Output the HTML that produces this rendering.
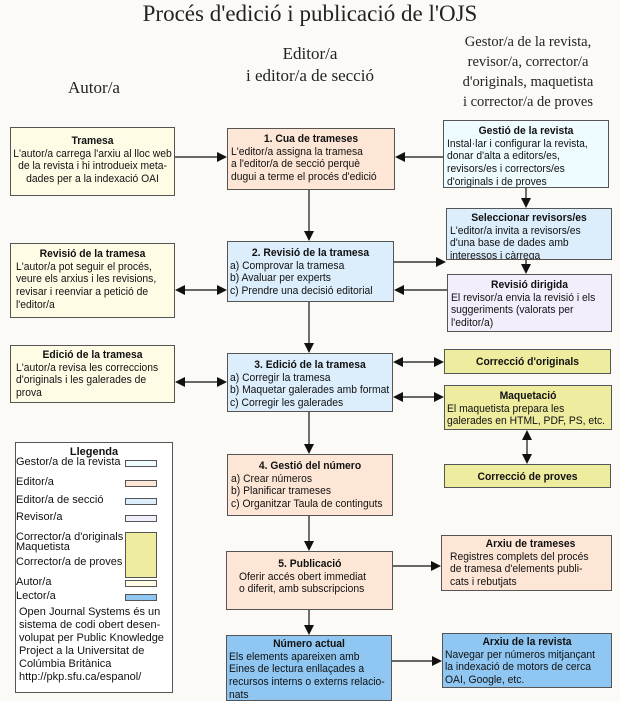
<!DOCTYPE html>
<html><head><meta charset="utf-8"><style>
body{margin:0;width:620px;height:701px;background:#fbfaf6;position:relative;overflow:hidden;font-family:"Liberation Sans",Arial,sans-serif;color:#111}
.s{position:absolute;font-family:"Liberation Serif",serif;color:#222;text-align:center;white-space:nowrap}
.b{position:absolute;box-sizing:border-box;border:1px solid #555;font-size:11px;line-height:12.7px;padding:4px 3px;white-space:nowrap;overflow:hidden}
.t{width:106.4%;transform:scaleX(0.94);transform-origin:0 0}
.b b{display:block;text-align:center}
.c{text-align:center}
.au{background:#fffce6}.ed{background:#fde6d6}.se{background:#dcedfb}.ge{background:#effcff}.re{background:#f3eefc}.ye{background:#eeec9e}.le{background:#8fc7f2}
.lg{position:absolute;font-size:11px;white-space:nowrap}
.sw{position:absolute;box-sizing:border-box;border:1px solid #555;height:7px;width:32px;left:125px}
</style></head><body>
<div class="s" style="left:0;width:620px;top:1px;font-size:23px">Procés d'edició i publicació de l'OJS</div>
<div class="s" style="left:39px;width:110px;top:78px;font-size:17px">Autor/a</div>
<div class="s" style="left:210px;width:200px;top:43px;font-size:17px;line-height:22px">Editor/a<br>i editor/a de secció</div>
<div class="s" style="left:428px;width:200px;top:32px;font-size:14.5px;line-height:20px">Gestor/a de la revista,<br>revisor/a, corrector/a<br>d'originals, maquetista<br>i corrector/a de proves</div>

<div class="b au c" style="left:10px;top:127px;width:165px;height:69px;padding:7px 1px"><div class="t">
<b>Tramesa</b>L'autor/a carrega l'arxiu al lloc web<br>de la revista i hi introdueix meta-<br>dades per a la indexació OAI</div></div>
<div class="b ed" style="left:227px;top:128px;width:168px;height:62px"><div class="t">
<b>1. Cua de trameses</b>L'editor/a assigna la tramesa<br>a l'editor/a de secció perquè<br>dugui a terme el procés d'edició</div></div>
<div class="b ge" style="left:443px;top:120px;width:166px;height:68px"><div class="t">
<b>Gestió de la revista</b>Instal·lar i configurar la revista,<br>donar d'alta a editors/es,<br>revisors/es i correctors/es<br>d'originals i de proves</div></div>
<div class="b se" style="left:446px;top:208px;width:166px;height:52px;padding-top:3px"><div class="t">
<b>Seleccionar revisors/es</b>L'editor/a invita a revisors/es<br>d'una base de dades amb<br>interessos i càrrega</div></div>
<div class="b se" style="left:227px;top:241px;width:167px;height:61px;padding:5px 2px"><div class="t">
<b>2. Revisió de la tramesa</b>a) Comprovar la tramesa<br>b) Avaluar per experts<br>c) Prendre una decisió editorial</div></div>
<div class="b au" style="left:10px;top:243px;width:165px;height:75px;padding:4px 5px"><div class="t">
<b>Revisió de la tramesa</b>L'autor/a pot seguir el procés,<br>veure els arxius i les revisions,<br>revisar i reenviar a petició de<br>l'editor/a</div></div>
<div class="b re" style="left:447px;top:274px;width:165px;height:58px;padding-top:4px"><div class="t">
<b>Revisió dirigida</b>El revisor/a envia la revisió i els<br>suggeriments (valorats per<br>l'editor/a)</div></div>

<div class="b au" style="left:10px;top:345px;width:165px;height:58px;padding:3px 5px"><div class="t">
<b>Edició de la tramesa</b>L'autor/a revisa les correccions<br>d'originals i les galerades de<br>prova</div></div>
<div class="b se" style="left:227px;top:353px;width:166px;height:59px;padding:5px 2px"><div class="t">
<b>3. Edició de la tramesa</b>a) Corregir la tramesa<br>b) Maquetar galerades amb format<br>c) Corregir les galerades</div></div>
<div class="b ye c" style="left:444px;top:349px;width:167px;height:25px;padding-top:6px"><div class="t"><b>Correcció d'originals</b></div></div>
<div class="b ye" style="left:444px;top:385px;width:168px;height:45px;padding:4px 2px"><div class="t">
<b>Maquetació</b>El maquetista prepara les<br>galerades en HTML, PDF, PS, etc.</div></div>
<div class="b ye c" style="left:444px;top:464px;width:167px;height:24px;padding-top:6px"><div class="t"><b>Correcció de proves</b></div></div>
<div class="b ed" style="left:227px;top:454px;width:166px;height:62px;padding-top:5px"><div class="t">
<b>4. Gestió del número</b>a) Crear números<br>b) Planificar trameses<br>c) Organitzar Taula de continguts</div></div>

<div class="b ed" style="left:226px;top:551px;width:167px;height:59px;padding:6px 0 0 12px"><div class="t">
<b style="margin-right:12px">5. Publicació</b>Oferir accés obert immediat<br>o diferit, amb subscripcions</div></div>
<div class="b ed" style="left:441px;top:535px;width:171px;height:56px;padding:2px 0 0 8px"><div class="t">
<b>Arxiu de trameses</b>Registres complets del procés<br>de tramesa d'elements publi-<br>cats i rebutjats</div></div>
<div class="b le" style="left:226px;top:635px;width:166px;height:66px;padding:2px 2px"><div class="t">
<b>Número actual</b>Els elements apareixen amb<br>Eines de lectura enllaçades a<br>recursos interns o externs relacio-<br>nats</div></div>
<div class="b le" style="left:442px;top:633px;width:170px;height:55px;padding:2px 2px"><div class="t">
<b>Arxiu de la revista</b>Navegar per números mitjançant<br>la indexació de motors de cerca<br>OAI, Google, etc.</div></div>

<div class="b" style="left:15px;top:442px;width:158px;height:251px;background:#fff"></div>
<div class="lg" style="left:15px;width:158px;top:446px;text-align:center;font-weight:bold">Llegenda</div>
<div class="lg" style="left:16px;top:456px">Gestor/a de la revista</div><div class="sw ge" style="top:460px"></div>
<div class="lg" style="left:16px;top:476px">Editor/a</div><div class="sw ed" style="top:480px"></div>
<div class="lg" style="left:16px;top:494px">Editor/a de secció</div><div class="sw se" style="top:498px"></div>
<div class="lg" style="left:16px;top:511px">Revisor/a</div><div class="sw re" style="top:515px"></div>
<div class="lg" style="left:16px;top:531px">Corrector/a d'originals</div>
<div class="lg" style="left:16px;top:541px">Maquetista</div>
<div class="lg" style="left:16px;top:556px">Corrector/a de proves</div>
<div class="sw ye" style="top:532px;height:46px"></div>
<div class="lg" style="left:16px;top:576px">Autor/a</div><div class="sw au" style="top:580px"></div>
<div class="lg" style="left:16px;top:590px">Lector/a</div><div class="sw le" style="top:594px"></div>
<div class="lg" style="left:19px;top:606px;line-height:13px">Open Journal Systems és un<br>sistema de codi obert desen-<br>volupat per Public Knowledge<br>Project a la Universitat de<br>Colúmbia Britànica<br>http://pkp.sfu.ca/espanol/</div>

<svg width="620" height="701" style="position:absolute;left:0;top:0" fill="#111" stroke="#111">
<g stroke-width="1.2">
<line x1="175" y1="157" x2="219" y2="157"/><polygon points="227,157 217,152 217,162" stroke="none"/>
<line x1="443" y1="157" x2="403" y2="157"/><polygon points="395,157 405,152 405,162" stroke="none"/>
<line x1="309" y1="190" x2="309" y2="233"/><polygon points="309,241 304,231 314,231" stroke="none"/>
<line x1="526" y1="188" x2="526" y2="200"/><polygon points="526,208 521,198 531,198" stroke="none"/>
<line x1="394" y1="262" x2="438" y2="262"/><polygon points="446,262 436,257 436,267" stroke="none"/>
<line x1="526" y1="260" x2="526" y2="266"/><polygon points="526,274 521,264 531,264" stroke="none"/>
<line x1="447" y1="290" x2="402" y2="290"/><polygon points="394,290 404,285 404,295" stroke="none"/>
<line x1="183" y1="290" x2="219" y2="290"/><polygon points="175,290 185,285 185,295" stroke="none"/><polygon points="227,290 217,285 217,295" stroke="none"/>
<line x1="309" y1="302" x2="309" y2="345"/><polygon points="309,353 304,343 314,343" stroke="none"/>
<line x1="183" y1="382" x2="219" y2="382"/><polygon points="175,382 185,377 185,387" stroke="none"/><polygon points="227,382 217,377 217,387" stroke="none"/>
<line x1="401" y1="362" x2="436" y2="362"/><polygon points="393,362 403,357 403,367" stroke="none"/><polygon points="444,362 434,357 434,367" stroke="none"/>
<line x1="401" y1="397" x2="436" y2="397"/><polygon points="393,397 403,392 403,402" stroke="none"/><polygon points="444,397 434,392 434,402" stroke="none"/>
<line x1="527" y1="438" x2="527" y2="456"/><polygon points="527,430 522,440 532,440" stroke="none"/><polygon points="527,464 522,454 532,454" stroke="none"/>
<line x1="309" y1="412" x2="309" y2="446"/><polygon points="309,454 304,444 314,444" stroke="none"/>
<line x1="309" y1="516" x2="309" y2="543"/><polygon points="309,551 304,541 314,541" stroke="none"/>
<line x1="393" y1="566" x2="433" y2="566"/><polygon points="441,566 431,561 431,571" stroke="none"/>
<line x1="309" y1="610" x2="309" y2="627"/><polygon points="309,635 304,625 314,625" stroke="none"/>
<line x1="392" y1="661" x2="434" y2="661"/><polygon points="442,661 432,656 432,666" stroke="none"/>
</g></svg>
</body></html>
